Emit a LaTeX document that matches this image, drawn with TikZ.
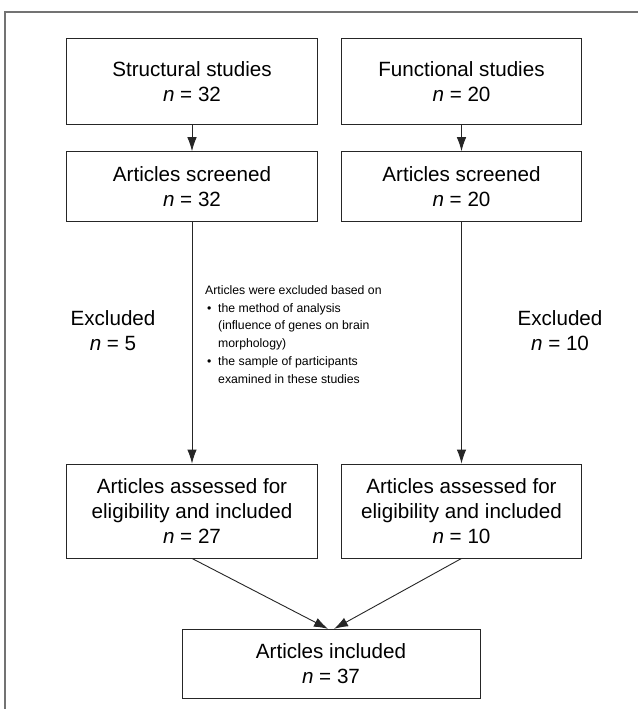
\documentclass[tikz,border=0pt]{standalone}
\usepackage{fontspec}
\setmainfont{Liberation Sans}
\usetikzlibrary{arrows.meta}
\tikzset{
  box/.style={draw=black!85, line width=0.9bp, inner sep=0pt, align=center,
    font=\fontsize{20.7}{25}\selectfont},
  arr/.style={draw=black!85, line width=0.9bp, -{Latex[length=14bp,width=9.5bp]}},
  lbl/.style={inner sep=0pt, align=center, font=\fontsize{20.7}{25}\selectfont},
  note/.style={inner sep=0pt, align=left, font=\fontsize{12.3}{18}\selectfont, anchor=north west},
  frame/.style={draw=black!55, line width=1.4bp}
}
\newcommand{\nn}{\textit{n}}
\newcommand{\bul}{\makebox[13bp][l]{\hspace{2bp}\textbullet}}
\newcommand{\ind}{\hspace*{13bp}}
\begin{document}
\begin{tikzpicture}[x=1bp,y=-1bp]
\useasboundingbox (0,0) rectangle (638,709);
\fill[white] (0,0) rectangle (638,709);
\coordinate (fa) at (5,709);
\coordinate (fb) at (5,12);
\coordinate (fc) at (638,12);
\draw[frame] (fa) -- (fb) -- (fc);

\node[box, minimum width=250.6bp, minimum height=85.5bp] (b1) at (192,81.7) {Structural studies\\ \nn{} = 32};
\node[box, minimum width=240.4bp, minimum height=85.5bp] (b2) at (461.5,81.7) {Functional studies\\ \nn{} = 20};
\node[box, minimum width=250.6bp, minimum height=69.3bp] (b3) at (192,186.3) {Articles screened\\ \nn{} = 32};
\node[box, minimum width=240.4bp, minimum height=69.3bp] (b4) at (461.5,186.3) {Articles screened\\ \nn{} = 20};
\node[box, minimum width=250.6bp, minimum height=94bp] (b5) at (192,511) {Articles assessed for\\ eligibility and included\\ \nn{} = 27};
\node[box, minimum width=240.4bp, minimum height=94bp] (b6) at (461.5,511) {Articles assessed for\\ eligibility and included\\ \nn{} = 10};
\node[box, minimum width=298bp, minimum height=69bp] (b7) at (331,663.8) {Articles included\\ \nn{} = 37};

\node[lbl] (ex1) at (113,330.5) {Excluded\\ \nn{} = 5};
\node[lbl] (ex2) at (560,330.5) {Excluded\\ \nn{} = 10};

\node[note] (nt) at (205,285) {Articles were excluded based on\\
\bul the method of analysis\\
\ind(influence of genes on brain\\
\ind morphology)\\
\bul the sample of participants\\
\ind examined in these studies};

\draw[arr] (b1) -- (b3);
\draw[arr] (b2) -- (b4);
\draw[arr] (b3) -- (b5);
\draw[arr] (b4) -- (b6);
\draw[arr] (b5.south) -- ([xshift=-3bp]b7.north);
\draw[arr] (b6.south) -- ([xshift=3bp]b7.north);
\end{tikzpicture}
\end{document}
